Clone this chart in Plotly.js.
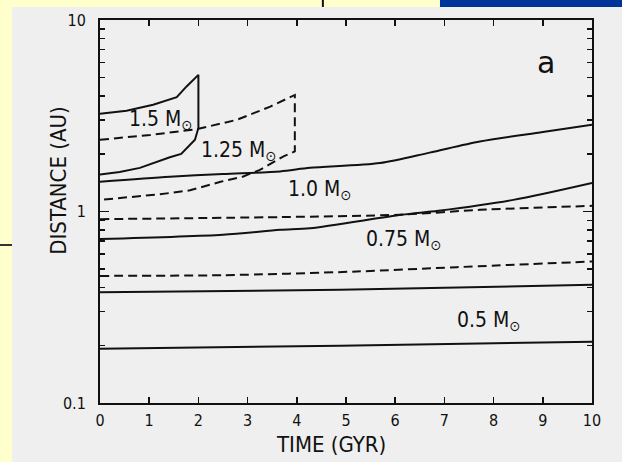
<!DOCTYPE html>
<html>
<head>
<meta charset="utf-8">
<script src="https://cdn.plot.ly/plotly-3.0.1.min.js"></script>
<style>html,body{margin:0;padding:0;background:#FFFFCC;}#chart{width:622px;height:462px;}</style>
</head>
<body>
<div id="chart"></div>
<script>
// 1.5 Msun habitable-zone loop (upper branch then lower branch back)
const m15Time = [0, 0.54, 1.08, 1.56, 1.76, 2.0, 2.0, 1.93, 1.65, 1.42, 0.81, 0.4, 0];
const m15Dist = [3.24, 3.36, 3.61, 3.95, 4.50, 5.17, 2.73, 2.37, 2.00, 1.92, 1.69, 1.61, 1.56];
// 1.25 Msun loop (dashed)
const m125Time = [0, 1.02, 1.97, 2.78, 3.46, 3.96, 3.96, 3.73, 3.25, 2.98, 2.9, 2.45, 1.83, 1.22, 0];
const m125Dist = [2.37, 2.51, 2.69, 3.01, 3.53, 4.06, 2.06, 1.94, 1.65, 1.56, 1.52, 1.43, 1.29, 1.23, 1.15];
// 1.0 Msun outer (solid) and inner (dashed)
const m10OuterTime = [0, 1.42, 2.5, 3.66, 4.27, 5.69, 6.7, 7.72, 9, 10];
const m10OuterDist = [1.43, 1.52, 1.57, 1.62, 1.69, 1.79, 2.03, 2.32, 2.60, 2.84];
const m10InnerTime = [0, 3.66, 6.1, 7.72, 10];
const m10InnerDist = [0.912, 0.935, 0.962, 1.02, 1.07];
// 0.75 Msun outer (solid) and inner (dashed)
const m075OuterTime = [0, 2.5, 3.66, 4.27, 6.13, 6.88, 8.4, 10];
const m075OuterDist = [0.718, 0.756, 0.802, 0.818, 0.962, 1.009, 1.15, 1.41];
const m075InnerTime = [0, 2.5, 5.22, 7.25, 10];
const m075InnerDist = [0.461, 0.465, 0.486, 0.512, 0.548];
// 0.5 Msun outer and inner (solid)
const m05Time = [0, 4.88, 10];
const m05OuterDist = [0.379, 0.390, 0.414];
const m05InnerDist = [0.192, 0.199, 0.209];

const xTicks = [0,1,2,3,4,5,6,7,8,9,10];
const yTicks = [0.1, 1, 10];
const yTickText = ['0.1', '1', '10'];
const yMinor = [0.2,0.3,0.4,0.5,0.6,0.7,0.8,0.9,2,3,4,5,6,7,8,9];

const labels = [
  {t: 1.22, d: 3.01, text: '1.5 M<sub>⊙</sub>'},
  {t: 2.81, d: 2.08, text: '1.25 M<sub>⊙</sub>'},
  {t: 4.47, d: 1.30, text: '1.0 M<sub>⊙</sub>'},
  {t: 6.16, d: 0.711, text: '0.75 M<sub>⊙</sub>'},
  {t: 7.89, d: 0.267, text: '0.5 M<sub>⊙</sub>'}
];

const FONT = 'Liberation Sans Narrow, DejaVu Sans Condensed, Liberation Sans, Arial, sans-serif';
const solid = {color: '#111', width: 2, shape: 'spline', smoothing: 0.8};
const dashed = {color: '#111', width: 2, dash: '9px,5px', shape: 'spline', smoothing: 0.8};
const loopSolid = {color: '#111', width: 2};
const loopDashed = {color: '#111', width: 2, dash: '9px,5px'};
function tr(x, y, line) { return {x: x, y: y, type: 'scatter', mode: 'lines', line: line, hoverinfo: 'skip', showlegend: false}; }

const traces = [
  tr(m15Time, m15Dist, loopSolid),
  tr(m125Time, m125Dist, loopDashed),
  tr(m10OuterTime, m10OuterDist, solid),
  tr(m10InnerTime, m10InnerDist, dashed),
  tr(m075OuterTime, m075OuterDist, solid),
  tr(m075InnerTime, m075InnerDist, dashed),
  tr(m05Time, m05OuterDist, solid),
  tr(m05Time, m05InnerDist, solid)
];

const annotations = labels.map(l => ({
  x: l.t, y: Math.log10(l.d), xref: 'x', yref: 'y', text: l.text, showarrow: false,
  font: {family: FONT, size: 21, color: '#111'}
}));
annotations.push({x: 0.929, y: 0.94, xref: 'paper', yref: 'paper', text: 'a', showarrow: false,
  font: {family: 'DejaVu Sans, sans-serif', size: 30, color: '#111'}});
annotations.push({x: 0.47, y: -0.108, xref: 'paper', yref: 'paper', yanchor: 'middle', text: 'TIME (GYR)', showarrow: false,
  font: {family: FONT, size: 22, color: '#111'}});
annotations.push({x: -0.113, y: 0.58, xref: 'paper', yref: 'paper', text: 'DISTANCE (AU)', textangle: -90, showarrow: false,
  font: {family: FONT, size: 22, color: '#111'}});

const layout = {
  width: 622, height: 462,
  margin: {l: 100, r: 30, t: 20, b: 59},
  paper_bgcolor: '#FFFFCC',
  plot_bgcolor: 'rgba(0,0,0,0)',
  font: {family: FONT, color: '#111', size: 16},
  showlegend: false,
  xaxis: {
    range: [0, 10], tickmode: 'array', tickvals: xTicks, ticks: 'inside', ticklen: 6, tickwidth: 1.5,
    tickcolor: '#111', showline: true, linewidth: 2, linecolor: '#111', mirror: 'allticks',
    showgrid: false, zeroline: false, tickfont: {family: FONT, size: 16, color: '#111'}, ticklabelstandoff: 2
  },
  yaxis: {
    type: 'log', range: [-1, 1], tickmode: 'array', tickvals: yTicks, ticktext: yTickText,
    ticks: 'inside', ticklen: 9, tickwidth: 1.5, tickcolor: '#111', showline: true, linewidth: 2,
    linecolor: '#111', mirror: 'allticks', showgrid: false, zeroline: false,
    tickfont: {family: FONT, size: 16, color: '#111'}, ticklabelstandoff: 9,
    minor: {tickmode: 'array', tickvals: yMinor, ticks: 'inside', ticklen: 5, tickwidth: 1.5, tickcolor: '#111', showgrid: false}
  },
  shapes: [
    {type: 'rect', xref: 'paper', yref: 'paper', x0: -0.1789, x1: 1.07, y0: -0.16, y1: 1.034, fillcolor: '#EFEFEF', line: {width: 0}, layer: 'below'},
    {type: 'rect', xref: 'paper', yref: 'paper', x0: 0.691, x1: 1.07, y0: 1.034, y1: 1.06, fillcolor: '#003399', line: {width: 0}, layer: 'below'},
    {type: 'line', xref: 'paper', yref: 'paper', x0: 0.453, x1: 0.453, y0: 1.034, y1: 1.06, line: {color: '#111', width: 2}, layer: 'below'},
    {type: 'line', xref: 'paper', yref: 'paper', x0: -0.21, x1: -0.1789, y0: 0.4125, y1: 0.4125, line: {color: '#333', width: 2}, layer: 'below'}
  ],
  annotations: annotations
};

Plotly.newPlot('chart', traces, layout, {staticPlot: true, displayModeBar: false});
</script>
</body>
</html>
